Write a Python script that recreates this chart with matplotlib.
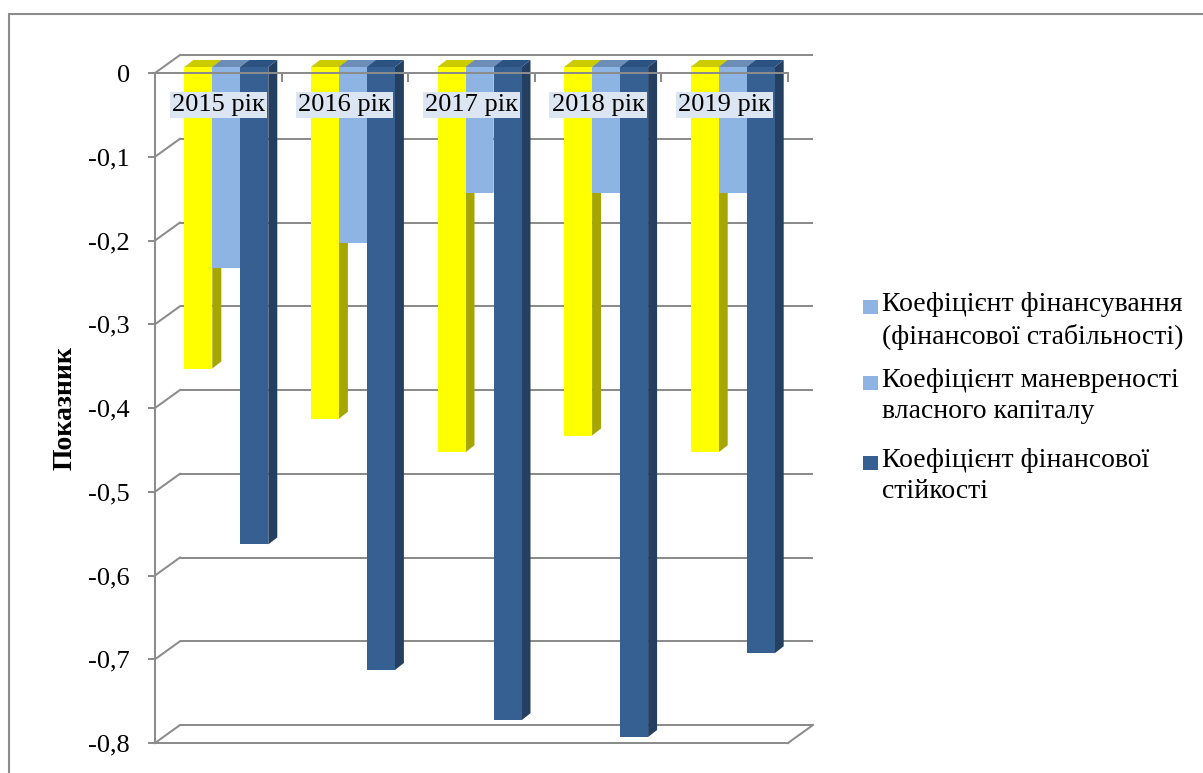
import numpy as np
import matplotlib
matplotlib.use("Agg")
import matplotlib.pyplot as plt
from matplotlib.patches import Polygon, Rectangle
from matplotlib.ticker import FuncFormatter

plt.rcParams['font.family'] = ['Liberation Serif', 'DejaVu Serif']

years = ['2015 рік', '2016 рік', '2017 рік', '2018 рік', '2019 рік']
k_financing = [-0.36, -0.42, -0.46, -0.44, -0.46]
k_maneuver = [-0.24, -0.21, -0.15, -0.15, -0.15]
k_stability = [-0.57, -0.72, -0.78, -0.80, -0.70]
series_names = ['Коефіцієнт фінансування\n(фінансової стабільності)',
                'Коефіцієнт маневреності\nвласного капіталу',
                'Коефіцієнт фінансової\nстійкості']
y_ticks = [0, -0.1, -0.2, -0.3, -0.4, -0.5, -0.6, -0.7, -0.8]

# front, top, side shades for each series
shades = [('#FFFF00', '#CBCB00', '#A6A600'),
          ('#8DB4E2', '#6C8DB6', '#6A87AA'),
          ('#366092', '#2C5282', '#243F60')]
legend_colors = ['#8DB4E2', '#8DB4E2', '#366092']
grid_c = '#8C8C8C'

W, H = 1203, 773
fig = plt.figure(figsize=(W / 100, H / 100), dpi=100)
ax = fig.add_axes([155 / W, 30 / H, 633 / W, 670 / H])
ax.set_xlim(-0.5, 4.5)
ax.set_ylim(-0.8, 0)

# data units per pixel, used for the fake 3d depth
xpp = 5 / 633
ypp = 0.8 / 670
bdx, bdy = 25 * xpp, 18 * ypp      # back wall
fdx, fdy = 8 * xpp, 6 * ypp        # bar front face
ddx, ddy = 9 * xpp, 7 * ypp        # bar depth
w = 28 * xpp

lw = 1.45
# back wall gridlines + left diagonals
for v in y_ticks:
    ax.plot([-0.5 + bdx, 4.5 + bdx], [v + bdy, v + bdy], color=grid_c, lw=lw,
            zorder=0.5, clip_on=False, solid_capstyle='butt')
    ax.plot([-0.5, -0.5 + bdx], [v, v + bdy], color=grid_c, lw=lw,
            zorder=0.5, clip_on=False)
ax.plot([4.5, 4.5 + bdx], [-0.8, -0.8 + bdy], color=grid_c, lw=lw,
        zorder=0.5, clip_on=False)

x = np.arange(len(years))
series = [k_financing, k_maneuver, k_stability]
for i in range(len(years)):
    for j, vals in enumerate(series):
        front, top, side = shades[j]
        xc = x[i] + fdx + (j - 1) * w
        v = vals[i]
        ax.bar(xc, v, width=w, bottom=fdy, color=front, zorder=2 + j * 0.1,
               clip_on=False)
        xl, xr = xc - w / 2, xc + w / 2
        yt, yb = fdy, v + fdy
        ax.add_patch(Polygon([(xr, yt), (xr + ddx, yt + ddy), (xr + ddx, yb + ddy), (xr, yb)],
                             closed=True, facecolor=side, edgecolor='none',
                             zorder=1.95 + j * 0.1, clip_on=False))
        ax.add_patch(Polygon([(xl, yt), (xr, yt), (xr + ddx, yt + ddy), (xl + ddx, yt + ddy)],
                             closed=True, facecolor=top, edgecolor='none',
                             zorder=1.95 + j * 0.1, clip_on=False))

# category labels under the zero line
for i, lab in enumerate(years):
    ax.text(x[i], -0.038, lab, ha='center', va='center', fontsize=19, zorder=5,
            bbox=dict(boxstyle='square,pad=0.08', facecolor='#DCE6F2', edgecolor='none'))

ax.spines['right'].set_visible(False)
for s in ['left', 'top', 'bottom']:
    ax.spines[s].set_color(grid_c)
    ax.spines[s].set_linewidth(lw)
    ax.spines[s].set_zorder(4)

ax.set_yticks(y_ticks)
ax.yaxis.set_major_formatter(FuncFormatter(
    lambda v, p: '0' if abs(v) < 1e-9 else f'{v:.1f}'.replace('.', ',')))
ax.tick_params(axis='y', direction='out', length=5, width=lw, color=grid_c,
               labelsize=19, pad=13)
ax.set_xticks(np.arange(0.5, 5, 1))
ax.tick_params(axis='x', which='both', top=True, bottom=False, labeltop=False,
               labelbottom=False, direction='in', length=6.5, width=lw, color=grid_c)
ax.set_ylabel('Показник', fontsize=20, fontweight='bold')
ax.yaxis.set_label_coords(-0.123, 0.5)

# legend with squares next to the first line
leg_y = [307, 383, 463]
for name, col, yy in zip(series_names, legend_colors, leg_y):
    fig.add_artist(Rectangle((863 / W, 1 - (yy + 7) / H), 15 / W, 14 / H,
                             transform=fig.transFigure, facecolor=col, edgecolor='none'))
    fig.text(882 / W, 1 - (yy - 15) / H, name, ha='left', va='top', fontsize=20,
             linespacing=1.33)

# outer frame
fig.add_artist(Rectangle((9 / W, -0.1), 1.2, (H - 14) / H + 0.1, transform=fig.transFigure,
                         facecolor='none', edgecolor=grid_c, lw=1.5, clip_on=False))

fig.savefig('out.png', dpi=100)
